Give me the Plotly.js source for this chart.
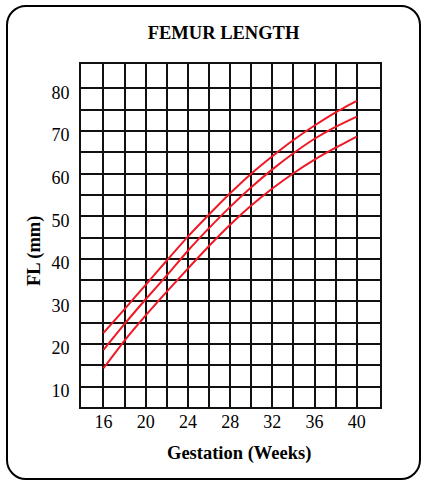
<!DOCTYPE html>
<html>
<head>
<meta charset="utf-8">
<script src="https://cdn.plot.ly/plotly-3.0.1.min.js"></script>
<style>
  html, body { margin: 0; padding: 0; background: #ffffff; }
  #wrap { position: relative; width: 422px; height: 482px; }
  #chart { position: absolute; left: 0; top: 0; width: 422px; height: 482px; }
  #frame { position: absolute; left: 6px; top: 5px; width: 411px; height: 471px;
           border: 2px solid #000; border-radius: 20px; pointer-events: none; z-index: 5; }
</style>
</head>
<body>
<div id="wrap">
  <div id="chart"></div>
  <div id="frame"></div>
</div>
<script>
// Gestational age (weeks)
const weeks = [16, 18, 20, 22, 24, 26, 28, 30, 32, 34, 36, 38, 40];
// Femur length (mm) - upper, middle, lower curves
const flUpper  = [22.6, 28.2, 33.9, 39.6, 45.2, 50.4, 55.4, 60.0, 64.1, 67.9, 71.3, 74.4, 77.1];
const flMiddle = [18.6, 24.7, 30.5, 36.1, 41.9, 47.2, 52.2, 56.8, 61.0, 64.8, 68.2, 71.0, 73.4];
const flLower  = [14.3, 20.8, 26.7, 32.3, 37.7, 43.0, 48.0, 52.5, 56.5, 60.1, 63.3, 66.1, 68.7];

// Grid / tick positions and labels
const xTickVals = [16, 18, 20, 22, 24, 26, 28, 30, 32, 34, 36, 38, 40];
const xTickText = ['16', '', '20', '', '24', '', '28', '', '32', '', '36', '', '40'];
const yTickVals = [10, 15, 20, 25, 30, 35, 40, 45, 50, 55, 60, 65, 70, 75, 80];
const yTickText = ['10', '', '20', '', '30', '', '40', '', '50', '', '60', '', '70', '', '80'];

const chartTitle = 'FEMUR LENGTH';
const xTitle = 'Gestation (Weeks)';
const yTitle = 'FL (mm)';

const red = 'rgb(240,24,36)';
const serif = '"Liberation Serif", serif';

const series = [flUpper, flMiddle, flLower];
const traces = series.map(vals => ({
  x: weeks,
  y: vals,
  type: 'scatter',
  mode: 'lines',
  line: { color: red, width: 2, shape: 'spline', smoothing: 0.6 },
  hoverinfo: 'skip',
  showlegend: false
}));

const tickFont = { family: serif, size: 18, color: '#000', weight: 'normal' };

const layout = {
  width: 422,
  height: 482,
  margin: { l: 81, r: 42, t: 64, b: 75, pad: 0 },
  paper_bgcolor: '#ffffff',
  plot_bgcolor: '#ffffff',
  font: { family: serif, color: '#000', size: 18 },
  title: {
    text: '<b>' + chartTitle + '</b>',
    font: { family: serif, size: 18.5, color: '#000' },
    x: 223.5 / 422, xanchor: 'center', xref: 'container',
    y: 1 - 32.7 / 482, yanchor: 'middle', yref: 'container'
  },
  xaxis: {
    range: [13.87, 42.2],
    tickmode: 'array',
    tickvals: xTickVals,
    ticktext: xTickText,
    ticks: '',
    showgrid: true,
    gridcolor: '#111',
    gridwidth: 2,
    zeroline: false,
    showline: true,
    linecolor: '#111',
    linewidth: 2,
    mirror: true,
    ticklabelstandoff: -3,
    tickfont: tickFont,
    fixedrange: true
  },
  yaxis: {
    range: [5.2, 85.75],
    tickmode: 'array',
    tickvals: yTickVals,
    ticktext: yTickText,
    ticks: '',
    showgrid: true,
    gridcolor: '#111',
    gridwidth: 2,
    zeroline: false,
    showline: true,
    linecolor: '#111',
    linewidth: 2,
    mirror: true,
    ticklabelshift: 4,
    ticklabelstandoff: 6,
    tickfont: tickFont,
    fixedrange: true
  },
  annotations: [
    {
      text: '<b>' + xTitle + '</b>',
      xref: 'paper', yref: 'paper',
      x: (239 - 81) / 299, y: (407 - 453) / 343,
      xanchor: 'center', yanchor: 'middle',
      showarrow: false,
      font: { family: serif, size: 18.5, color: '#000' }
    },
    {
      text: '<b>' + yTitle + '</b>',
      xref: 'paper', yref: 'paper',
      x: (34 - 81) / 299, y: 1 - (251 - 64) / 343,
      xanchor: 'center', yanchor: 'middle',
      textangle: -90,
      showarrow: false,
      font: { family: serif, size: 18.5, color: '#000' }
    }
  ]
};

Plotly.newPlot('chart', traces, layout, { displayModeBar: false, staticPlot: true });
</script>
</body>
</html>
